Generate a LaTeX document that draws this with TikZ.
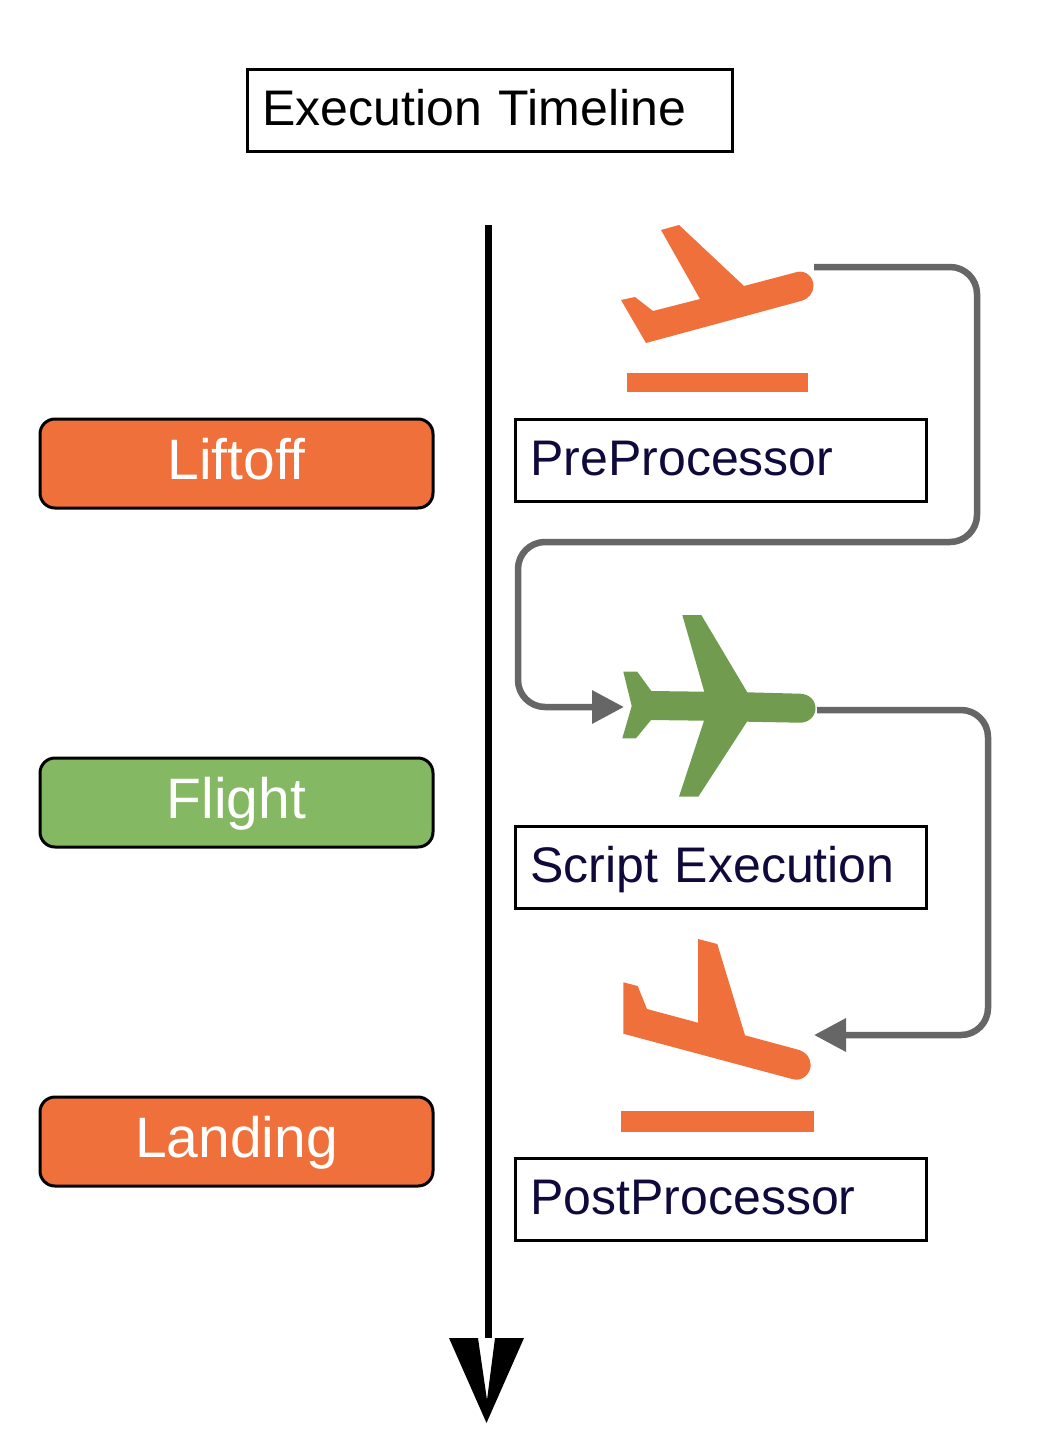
\documentclass[tikz,border=0pt]{standalone}
\usepackage{fontspec}
\setmainfont{Liberation Sans}
\usepackage{xcolor}
\usetikzlibrary{arrows.meta,positioning}
\definecolor{planeorange}{HTML}{EF703B}
\definecolor{planegreen}{HTML}{719C50}
\definecolor{phasegreen}{HTML}{85B863}
\definecolor{boxink}{HTML}{100A3C}
\definecolor{flowgray}{HTML}{666666}

\begin{document}
\begin{tikzpicture}[
    x=1pt, y=-1pt,
    >=Stealth,
    titlebox/.style={draw, line width=3pt, outer sep=0pt, anchor=north west, minimum height=82pt, text width=454pt, inner xsep=15.5pt, inner ysep=0pt, align=left, text height=40pt, text depth=10pt, font=\fontsize{50}{55}\selectfont},
    stagebox/.style={titlebox, text width=380pt, text=boxink},
    phase/.style={draw, line width=3pt, outer sep=0pt, rounded corners=15pt, anchor=north west, minimum width=393pt, minimum height=89pt, inner sep=0pt, text=white, text height=43pt, text depth=11pt, font=\fontsize{57}{60}\selectfont},
    flowline/.style={draw=flowgray, line width=6.5pt, rounded corners=27pt, -{Triangle[length=32pt,width=32pt,fill=flowgray]}},
]
\useasboundingbox (0,0) rectangle (1046,1448);

% ========== Title ==========
\node[titlebox] (title) at (247,69) {Execution Timeline};

% ========== Timeline ==========
\coordinate (timestart) at (488.7,225);
\coordinate (timeend) at (488.7,1338);
\draw[line width=7pt] (timestart) -- (timeend);
\fill (449,1338) -- (486.5,1423) -- (524,1338) -- (495,1338) -- (487,1400) -- (478,1338) -- cycle;

% ========== Phases ==========
\node[phase, fill=planeorange] (liftoff) at (40,419) {Liftoff};
\node[phase, fill=phasegreen] (flight) at (40,758) {Flight};
\node[phase, fill=planeorange] (landing) at (40,1097) {Landing};

% ========== Stages ==========
\node[stagebox] (pre) at (515,419) {PreProcessor};
\node[stagebox] (script) at (515,826) {Script Execution};
\node[stagebox] (post) at (515,1158) {PostProcessor};

% ========== Planes ==========
% Takeoff
\fill[planeorange] (621,300) -- (635,297) -- (653,311) -- (700,299) -- (661,230) -- (679,225) -- (744,286) -- (797,272)
    .. controls (806,270) and (813.5,277) .. (813.5,286) .. controls (813.5,293) and (808,299) .. (802,300.7) -- (646,343) -- cycle;
\fill[planeorange] (627,373) rectangle (807.5,392);
% Cruise
\fill[planegreen] (623.3,671.7) -- (637.3,671.7) -- (651.3,691) -- (704.3,691.7) -- (682.3,615) -- (701.3,615) -- (747.3,692.3) -- (800,693.7)
    .. controls (809,694) and (815.5,700) .. (815.5,708.3) .. controls (815.5,716) and (809,722.7) .. (800,722.7)
    -- (747,721.7) -- (698.3,796.7) -- (679,796.7) -- (704,720.7) -- (651,720) -- (636,738.3) -- (622.3,738.3) -- (631.7,706) -- cycle;
% Landing
\fill[planeorange] (623.3,982.3) -- (637.7,986) -- (647,1009) -- (698,1022.7) -- (698,939) -- (717.3,944) -- (745,1035.3) -- (799.3,1050)
    .. controls (806,1052) and (810.7,1058) .. (810.7,1065) .. controls (810.7,1074) and (802,1081.5) .. (793.3,1079.3) -- (623.3,1033.7) -- cycle;
\fill[planeorange] (620.7,1111) rectangle (813.5,1131.7);

% ========== Flow between planes ==========
\coordinate (takeoffnose) at (814,267);
\coordinate (cruisetail) at (624,707);
\coordinate (cruisenose) at (817,710);
\coordinate (landingnose) at (814,1035);
\draw[flowline] (takeoffnose) -- (977,267) -- (977,542) -- (518,542) -- (518,707) -- (cruisetail);
\draw[flowline] (cruisenose) -- (988,710) -- (988,1035) -- (landingnose);

\end{tikzpicture}
\end{document}
